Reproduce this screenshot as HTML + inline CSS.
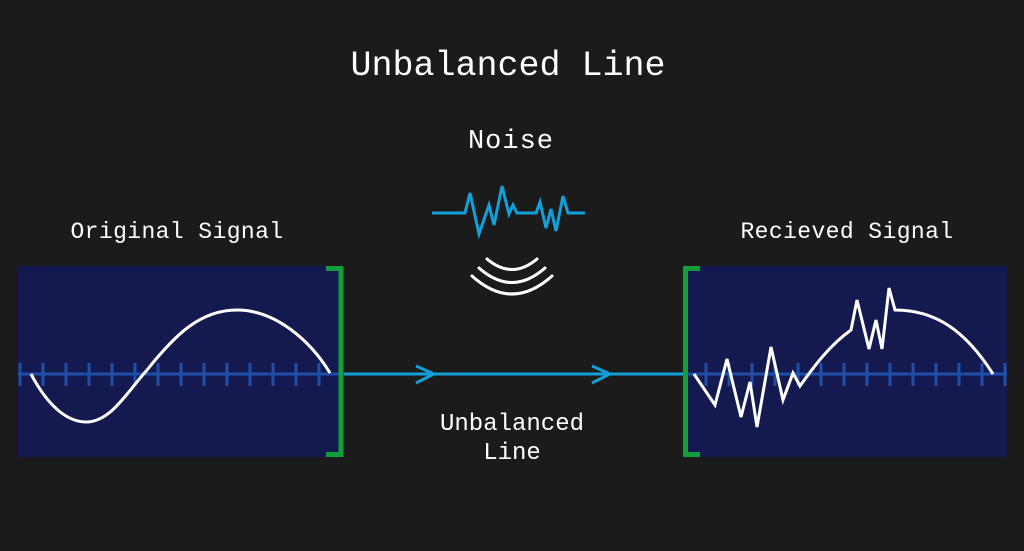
<!DOCTYPE html>
<html><head><meta charset="utf-8"><style>
html,body{margin:0;padding:0;background:#1b1b1b;}
svg{display:block}
text{font-family:"Liberation Mono",monospace;fill:#fff;}
</style></head><body>
<svg width="1024" height="551" viewBox="0 0 1024 551" xmlns="http://www.w3.org/2000/svg">
<rect width="1024" height="551" fill="#1b1b1b"/>
<text x="508" y="75" font-size="35" text-anchor="middle">Unbalanced Line</text>
<text x="511" y="148" font-size="27" text-anchor="middle" letter-spacing="1">Noise</text>
<text x="177" y="238" font-size="23" text-anchor="middle" letter-spacing="0.4">Original Signal</text>
<text x="847" y="238" font-size="23" text-anchor="middle" letter-spacing="0.4">Recieved Signal</text>
<text x="512" y="430" font-size="24" text-anchor="middle">Unbalanced</text>
<text x="512" y="459" font-size="24" text-anchor="middle">Line</text>

<!-- noise -->
<polyline points="432,213 465,213 470,193 479,234 489,205 494,225 502,186 509,214 513,205 517,213 536,213 540,202 546,228 551,209 556,231 563,196 568,213 585,213" fill="none" stroke="#12a0d8" stroke-width="3" stroke-linejoin="miter"/>
<g fill="none" stroke="#fff" stroke-width="3" stroke-linecap="round">
<path d="M487,259 Q512,280 537,259"/>
<path d="M479,268 Q512,297 545,268"/>
<path d="M472,276 Q512,312 552,276"/>
</g>

<!-- left box -->
<rect x="18" y="266" width="324" height="191" fill="#141a4f"/>
<line x1="18" y1="374" x2="342" y2="374" stroke="#1f4fa8" stroke-width="3"/>
<g stroke="#1f4fa8" stroke-width="3">
<line x1="20" y1="363" x2="20" y2="386"/><line x1="43" y1="363" x2="43" y2="386"/><line x1="66" y1="363" x2="66" y2="386"/><line x1="89" y1="363" x2="89" y2="386"/><line x1="112" y1="363" x2="112" y2="386"/><line x1="135" y1="363" x2="135" y2="386"/><line x1="158" y1="363" x2="158" y2="386"/><line x1="181" y1="363" x2="181" y2="386"/><line x1="204" y1="363" x2="204" y2="386"/><line x1="227" y1="363" x2="227" y2="386"/><line x1="250" y1="363" x2="250" y2="386"/><line x1="273" y1="363" x2="273" y2="386"/><line x1="296" y1="363" x2="296" y2="386"/><line x1="319" y1="363" x2="319" y2="386"/>
</g>
<path d="M31,374 C50,410 70,422 86,422 C110,422 125,395 147,370 C175,335 200,310 237,310 C275,310 310,340 330,373" fill="none" stroke="#fff" stroke-width="3"/>
<path d="M326,268.5 H341 V454.5 H326" fill="none" stroke="#0fa03c" stroke-width="5"/>

<!-- line -->
<line x1="344" y1="374" x2="683" y2="374" stroke="#12a0d8" stroke-width="3"/>
<polyline points="416,366 434,374 416,383" fill="none" stroke="#12a0d8" stroke-width="3"/>
<polyline points="592,366 610,374 592,383" fill="none" stroke="#12a0d8" stroke-width="3"/>

<!-- right box -->
<rect x="683" y="266" width="324" height="191" fill="#141a4f"/>
<line x1="683" y1="374" x2="1007" y2="374" stroke="#1f4fa8" stroke-width="3"/>
<g stroke="#1f4fa8" stroke-width="3">
<line x1="706" y1="363" x2="706" y2="386"/><line x1="729" y1="363" x2="729" y2="386"/><line x1="752" y1="363" x2="752" y2="386"/><line x1="775" y1="363" x2="775" y2="386"/><line x1="798" y1="363" x2="798" y2="386"/><line x1="821" y1="363" x2="821" y2="386"/><line x1="844" y1="363" x2="844" y2="386"/><line x1="867" y1="363" x2="867" y2="386"/><line x1="890" y1="363" x2="890" y2="386"/><line x1="913" y1="363" x2="913" y2="386"/><line x1="936" y1="363" x2="936" y2="386"/><line x1="959" y1="363" x2="959" y2="386"/><line x1="982" y1="363" x2="982" y2="386"/><line x1="1005" y1="363" x2="1005" y2="386"/>
</g>
<path d="M694,374 L715,405 L727,359 L741,417 L750,382 L757,427 L771,347 L783,400 L793,373 L800,386 C815,365 830,345 851,330 L857,300 L869,349 L876,320 L882,349 L889,288 L895,310 C935,310 965,330 993,374" fill="none" stroke="#fff" stroke-width="3" stroke-linejoin="miter"/>
<path d="M700,268.5 H685.5 V454.5 H700" fill="none" stroke="#0fa03c" stroke-width="5"/>
</svg>
</body></html>
